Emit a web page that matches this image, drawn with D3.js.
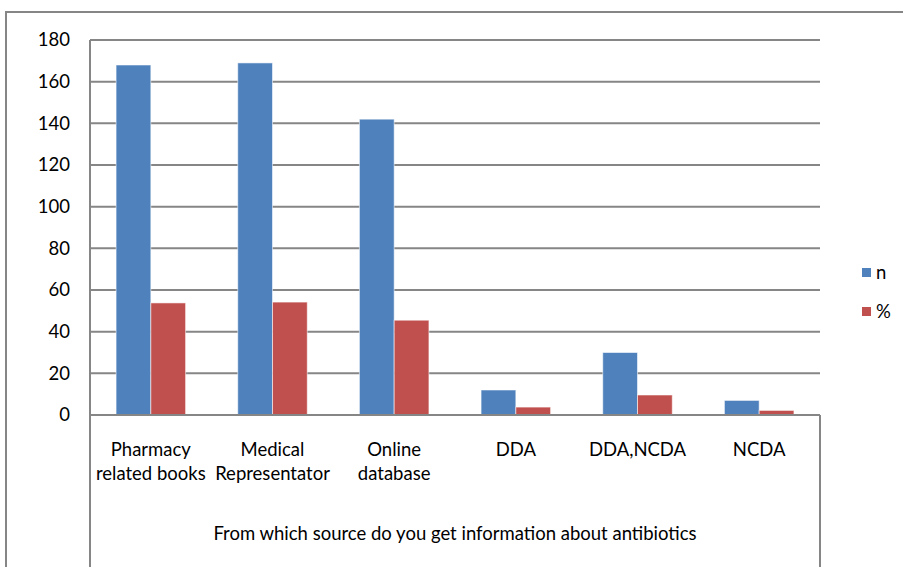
<!DOCTYPE html>
<html>
<head>
<meta charset="utf-8">
<script src="https://cdn.jsdelivr.net/npm/d3@7/dist/d3.min.js"></script>
<style>
  html, body { margin: 0; padding: 0; background: #fff; }
  svg { display: block; font-family: Lato, "Open Sans", "Liberation Sans", sans-serif; }
</style>
</head>
<body>
<svg id="chart" width="903" height="567"></svg>
<script>
// Sources of information about antibiotics (n = respondents, % of 312)
const categories = [
  ["Pharmacy", "related books"],
  ["Medical", "Representator"],
  ["Online", "database"],
  ["DDA"],
  ["DDA,NCDA"],
  ["NCDA"]
];
const seriesNames = ["n", "%"];
const nValues = [168, 169, 142, 12, 30, 7];
const pctValues = [53.8, 54.2, 45.5, 3.8, 9.6, 2.2];
const yTicks = [0, 20, 40, 60, 80, 100, 120, 140, 160, 180];
const axisTitle = "From which source do you get information about antibiotics";

const colors = ["#4F81BD", "#C0504D"];
const gridColor = "#868686";
const fontSize = 18.5;

const svg = d3.select("#chart");
const plot = { left: 90, right: 820, top: 40, bottom: 415 };

// Outer chart frame (extends past the right and bottom edges)
svg.append("path")
  .attr("d", "M6,567 V12 H903")
  .attr("fill", "none")
  .attr("stroke", gridColor)
  .attr("stroke-width", 2);

const x0 = d3.scaleBand()
  .domain(d3.range(categories.length))
  .range([plot.left, plot.right])
  .paddingInner(0)
  .paddingOuter(0);

// Two bars per category, with a 150% gap between category groups
const x1 = d3.scaleBand()
  .domain(seriesNames)
  .range([0, x0.bandwidth()])
  .paddingInner(0)
  .paddingOuter(0.75);

const y = d3.scaleLinear().domain([0, 180]).range([plot.bottom, plot.top]);

// Horizontal gridlines
svg.append("g")
  .selectAll("line")
  .data(yTicks.filter(t => t > 0))
  .join("line")
  .attr("x1", plot.left)
  .attr("x2", plot.right)
  .attr("y1", d => y(d))
  .attr("y2", d => y(d))
  .attr("stroke", gridColor)
  .attr("stroke-width", 2);

// Y axis labels
svg.append("g")
  .selectAll("text")
  .data(yTicks)
  .join("text")
  .attr("x", 70)
  .attr("y", d => y(d))
  .attr("dy", "0.35em")
  .attr("text-anchor", "end")
  .attr("font-size", fontSize)
  .attr("fill", "#000")
  .text(d => d);

// Bars
const rows = categories.map((c, i) => ({ i, vals: [nValues[i], pctValues[i]] }));
const groups = svg.append("g")
  .selectAll("g")
  .data(rows)
  .join("g")
  .attr("transform", d => `translate(${x0(d.i)},0)`);

groups.selectAll("rect")
  .data(d => d.vals.map((v, k) => ({ k, v })))
  .join("rect")
  .attr("x", d => x1(seriesNames[d.k]))
  .attr("y", d => y(d.v))
  .attr("width", x1.bandwidth())
  .attr("height", d => y(0) - y(d.v))
  .attr("fill", d => colors[d.k])
  .attr("stroke", "rgba(255,255,255,0.55)")
  .attr("stroke-width", 1);

// Axis lines: vertical value axis, baseline and category box sides
svg.append("line")
  .attr("x1", plot.left).attr("x2", plot.left)
  .attr("y1", plot.top).attr("y2", 567)
  .attr("stroke", gridColor).attr("stroke-width", 2);
svg.append("line")
  .attr("x1", plot.left).attr("x2", plot.right)
  .attr("y1", y(0)).attr("y2", y(0))
  .attr("stroke", gridColor).attr("stroke-width", 2);
svg.append("line")
  .attr("x1", plot.right).attr("x2", plot.right)
  .attr("y1", y(0)).attr("y2", 567)
  .attr("stroke", gridColor).attr("stroke-width", 2);

// Category labels
const catLabels = svg.append("g")
  .selectAll("text")
  .data(categories)
  .join("text")
  .attr("x", (d, i) => x0(i) + x0.bandwidth() / 2)
  .attr("y", 456)
  .attr("text-anchor", "middle")
  .attr("font-size", fontSize)
  .attr("fill", "#000");
catLabels.selectAll("tspan")
  .data(d => d)
  .join("tspan")
  .attr("x", function () { return d3.select(this.parentNode).attr("x"); })
  .attr("dy", (d, j) => j === 0 ? 0 : 24)
  .text(d => d);

// Category axis title
svg.append("text")
  .attr("x", (plot.left + plot.right) / 2)
  .attr("y", 540)
  .attr("text-anchor", "middle")
  .attr("font-size", fontSize)
  .attr("fill", "#000")
  .text(axisTitle);

// Legend
const legend = svg.append("g")
  .selectAll("g")
  .data(seriesNames)
  .join("g")
  .attr("transform", (d, i) => `translate(862,${268 + i * 39})`);
legend.append("rect")
  .attr("width", 9).attr("height", 9)
  .attr("fill", (d, i) => colors[i]);
legend.append("text")
  .attr("x", 14).attr("y", 5)
  .attr("dy", "0.35em")
  .attr("font-size", fontSize)
  .attr("fill", "#000")
  .text(d => d);
</script>
</body>
</html>
